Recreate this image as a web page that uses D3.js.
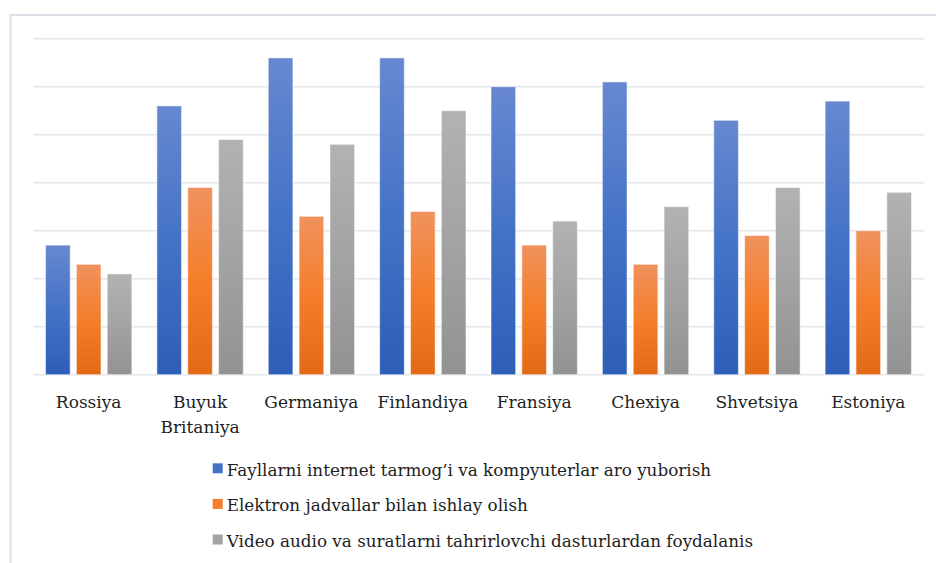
<!DOCTYPE html>
<html>
<head>
<meta charset="utf-8">
<script src="https://cdn.jsdelivr.net/npm/d3@7"></script>
<style>
  html, body { margin: 0; padding: 0; background: #fff; }
</style>
</head>
<body>
<div id="chart"></div>
<script>
const countries = ['Rossiya', 'Buyuk Britaniya', 'Germaniya', 'Finlandiya', 'Fransiya', 'Chexiya', 'Shvetsiya', 'Estoniya'];
const seriesNames = [
    'Fayllarni internet tarmog’i va kompyuterlar aro yuborish',
    'Elektron jadvallar bilan ishlay olish',
    'Video audio va suratlarni tahrirlovchi dasturlardan foydalanis'
];
const filesValues = [27, 56, 66, 66, 60, 61, 53, 57];
const sheetsValues = [23, 39, 33, 34, 27, 23, 29, 30];
const mediaValues = [21, 49, 48, 55, 32, 35, 39, 38];
const gridTicks = [0, 10, 20, 30, 40, 50, 60, 70];

const W = 936, H = 563;
const plot = { left: 33, right: 924, top: 38.7, bottom: 374.7 };
const serif = "'DejaVu Serif', 'Liberation Serif', 'Times New Roman', serif";

const svg = d3.select('#chart').append('svg')
    .attr('width', W).attr('height', H)
    .attr('font-family', serif);

// gradients per series (per bar, light top -> dark bottom)
const gradStops = [
    ['#6788d0', '#4473c6', '#2d5eb8'],
    ['#f0925e', '#f47e2b', '#e26a16'],
    ['#b2b2b2', '#a3a3a3', '#929292']
];
const defs = svg.append('defs');
gradStops.forEach((stops, i) => {
    const g = defs.append('linearGradient')
        .attr('id', 'grad' + i)
        .attr('x1', 0).attr('y1', 0).attr('x2', 0).attr('y2', 1);
    stops.forEach((c, j) => g.append('stop')
        .attr('offset', j / (stops.length - 1))
        .attr('stop-color', c));
});

// outer frame (runs off the right / bottom of the picture)
svg.append('rect')
    .attr('x', 10.5).attr('y', 15)
    .attr('width', W).attr('height', H)
    .attr('fill', 'none')
    .attr('stroke', '#dde1e7')
    .attr('stroke-width', 2);

const x0 = d3.scaleBand().domain(countries).range([plot.left, plot.right]);
const x1 = d3.scaleBand().domain([0, 1, 2])
    .range([12.5, x0.bandwidth() - 12.5]).paddingInner(0.2);
const y = d3.scaleLinear().domain([0, 70]).range([plot.bottom, plot.top]);

// gridlines
svg.append('g')
    .selectAll('line')
    .data(gridTicks)
    .enter().append('line')
    .attr('x1', plot.left).attr('x2', plot.right)
    .attr('y1', d => y(d)).attr('y2', d => y(d))
    .attr('stroke', '#e2e5ea')
    .attr('stroke-width', 1.5);

const rows = countries.map((c, i) => ({
    country: c,
    values: [filesValues[i], sheetsValues[i], mediaValues[i]]
}));

const group = svg.append('g')
    .selectAll('g')
    .data(rows)
    .enter().append('g')
    .attr('transform', d => `translate(${x0(d.country)},0)`);

group.selectAll('rect')
    .data(d => d.values.map((v, k) => ({ k, v })))
    .enter().append('rect')
    .attr('x', d => x1(d.k))
    .attr('width', x1.bandwidth())
    .attr('y', d => y(d.v))
    .attr('height', d => y(0) - y(d.v))
    .attr('fill', d => `url(#grad${d.k})`)
    .attr('stroke', 'rgba(255,255,255,0.55)')
    .attr('stroke-width', 1);

// category labels
const labels = svg.append('g')
    .selectAll('text')
    .data(countries)
    .enter().append('text')
    .attr('x', d => x0(d) + x0.bandwidth() / 2)
    .attr('y', 408.3)
    .attr('text-anchor', 'middle')
    .attr('font-family', serif)
    .attr('font-size', '17px')
    .attr('fill', '#1e1e1e');

labels.each(function(d) {
    const words = d === 'Buyuk Britaniya' ? ['Buyuk', 'Britaniya'] : [d];
    const t = d3.select(this);
    words.forEach((w, i) => t.append('tspan')
        .attr('x', x0(d) + x0.bandwidth() / 2)
        .attr('dy', i === 0 ? 0 : 24.4)
        .text(w));
});

// legend
const legend = svg.append('g')
    .selectAll('g')
    .data(seriesNames)
    .enter().append('g')
    .attr('transform', (d, i) => `translate(212.7,${475.5 + i * 35.6})`);

legend.append('rect')
    .attr('x', 0).attr('y', -12.2)
    .attr('width', 10).attr('height', 10)
    .attr('fill', (d, i) => gradStops[i][1]);

legend.append('text')
    .attr('x', 14)
    .attr('y', 0)
    .attr('font-family', serif)
    .attr('font-size', '16.8px')
    .attr('fill', '#1e1e1e')
    .text(d => d);
</script>
</body>
</html>
